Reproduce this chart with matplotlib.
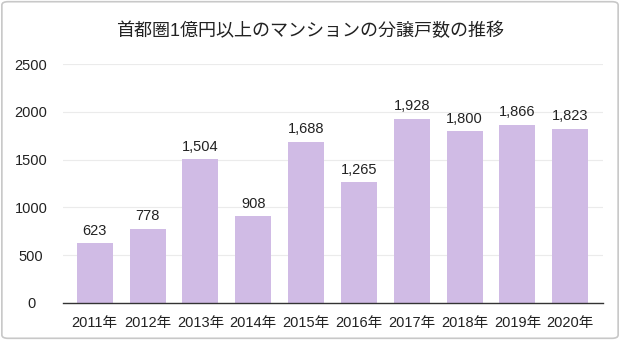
import matplotlib
matplotlib.use('Agg')
import matplotlib.pyplot as plt
from matplotlib.patches import FancyBboxPatch

plt.rcParams['font.family'] = ['Liberation Sans', 'Noto Sans CJK JP']

# 分譲戸数のデータ
years = ['2011年', '2012年', '2013年', '2014年', '2015年',
         '2016年', '2017年', '2018年', '2019年', '2020年']
units = [623, 778, 1504, 908, 1688, 1265, 1928, 1800, 1866, 1823]
y_ticks = [0, 500, 1000, 1500, 2000, 2500]

fig = plt.figure(figsize=(6.2, 3.4), dpi=100)
ax = fig.add_axes([63 / 620, 37 / 340, 540 / 620, 239 / 340])

# 外枠
frame = FancyBboxPatch((0.003, 0.005), 0.994, 0.99, boxstyle='round,pad=0,rounding_size=0.01',
                       transform=fig.transFigure, facecolor='white', edgecolor='#c8c8c8',
                       linewidth=1.2, zorder=-10)
fig.patches.append(frame)

x = range(len(years))
bars = ax.bar(x, units, width=0.68, color='#d0bbe5', zorder=2)
for xi, v in zip(x, units):
    ax.text(xi, v + 55, f'{v:,}', ha='center', va='bottom', fontsize=10.5, color='#222222')

ax.set_xlim(-0.6, len(years) - 0.38)
ax.set_ylim(0, 2500)
ax.set_yticks(y_ticks)
ax.set_yticklabels([str(t) for t in y_ticks], fontsize=10.5, color='#222222', ha='center')
ax.set_xticks(list(x))
ax.set_xticklabels(years, fontsize=10.5, color='#222222',
                   family=['Liberation Sans', 'Noto Sans CJK JP'])
ax.tick_params(axis='both', length=0)
ax.tick_params(axis='y', pad=23)
ax.tick_params(axis='x', pad=9)
ax.grid(axis='y', color='#ebebeb', linewidth=0.8, zorder=0)
for s in ['top', 'right', 'left']:
    ax.spines[s].set_visible(False)
ax.spines['bottom'].set_color('#333333')
ax.spines['bottom'].set_linewidth(1)
ax.set_facecolor('none')

fig.text(0.5, 1 - 31 / 340, '首都圏1億円以上のマンションの分譲戸数の推移', ha='center', va='center',
         fontsize=13, color='#222222', family=['Liberation Sans', 'Noto Sans CJK JP'])

fig.savefig('out.png', dpi=100, facecolor='white')
